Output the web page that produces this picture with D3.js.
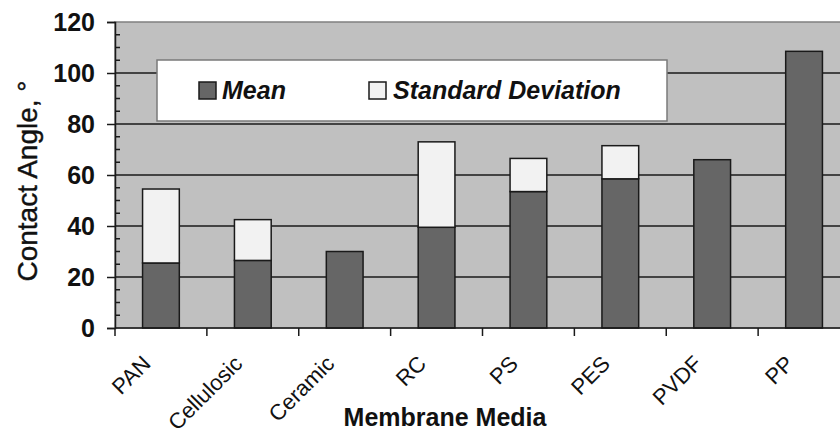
<!DOCTYPE html>
<html>
<head>
<meta charset="utf-8">
<script src="https://cdn.jsdelivr.net/npm/d3@7/dist/d3.min.js"></script>
<style>
  html, body { margin: 0; padding: 0; background: #ffffff; }
  svg { display: block; font-family: "Liberation Sans", Arial, sans-serif; }
</style>
</head>
<body>
<svg id="chart" width="840" height="434"></svg>
<script>
// Contact angle of membrane media: mean with standard deviation stacked on top
const categories = ["PAN", "Cellulosic", "Ceramic", "RC", "PS", "PES", "PVDF", "PP"];
const meanValues = [25.5, 26.5, 30, 39.5, 53.5, 58.5, 66, 108.5];
const sdValues   = [29, 16, 0, 33.5, 13, 13, 0, 0];
const yTicks = [0, 20, 40, 60, 80, 100, 120];
const seriesNames = ["Mean", "Standard Deviation"];

const svg = d3.select("#chart");
const plot = { left: 115, right: 850, top: 22, bottom: 328 };

const x = d3.scaleBand()
  .domain(categories)
  .range([plot.left, plot.right])
  .paddingInner(0.6)
  .paddingOuter(0.3);

const y = d3.scaleLinear()
  .domain([0, 120])
  .range([plot.bottom, plot.top]);

// plot background
svg.append("rect")
  .attr("x", plot.left).attr("y", plot.top)
  .attr("width", plot.right - plot.left).attr("height", plot.bottom - plot.top)
  .attr("fill", "#c0c0c0")
  .attr("stroke", "#808080").attr("stroke-width", 1.5);

// horizontal gridlines
svg.append("g")
  .selectAll("line")
  .data(yTicks.filter(d => d > 0 && d < 120))
  .join("line")
  .attr("x1", plot.left).attr("x2", plot.right)
  .attr("y1", d => y(d)).attr("y2", d => y(d))
  .attr("stroke", "#1a1a1a").attr("stroke-width", 1.5);

// minor ticks every 5 units, pointing into the plot
svg.append("g")
  .selectAll("line")
  .data(d3.range(5, 120, 5).filter(d => d % 20 !== 0))
  .join("line")
  .attr("x1", plot.left).attr("x2", plot.left + 5)
  .attr("y1", d => y(d)).attr("y2", d => y(d))
  .attr("stroke", "#1a1a1a").attr("stroke-width", 1.5);

// stacked bars
const stackData = categories.map((c, i) => ({ cat: c, Mean: meanValues[i], "Standard Deviation": sdValues[i] }));
const stacked = d3.stack().keys(seriesNames)(stackData);
const fills = { "Mean": "#666666", "Standard Deviation": "#f2f2f2" };

svg.append("g")
  .selectAll("g")
  .data(stacked)
  .join("g")
  .attr("fill", d => fills[d.key])
  .selectAll("rect")
  .data(d => d.filter(s => s[1] - s[0] > 0))
  .join("rect")
  .attr("x", d => x(d.data.cat))
  .attr("y", d => y(d[1]))
  .attr("width", x.bandwidth())
  .attr("height", d => y(d[0]) - y(d[1]))
  .attr("stroke", "#1a1a1a").attr("stroke-width", 1.5);

// y axis
const yAxis = d3.axisLeft(y).tickValues(yTicks).tickSize(8).tickPadding(12);
const gy = svg.append("g")
  .attr("transform", `translate(${plot.left},0)`)
  .call(yAxis);
gy.select(".domain").attr("stroke", "#1a1a1a").attr("stroke-width", 1.5);
gy.selectAll(".tick line").attr("stroke", "#1a1a1a").attr("stroke-width", 1.5);
gy.selectAll(".tick text")
  .attr("font-size", 25).attr("font-weight", "bold")
  .attr("font-family", "Liberation Sans, Arial, sans-serif")
  .attr("fill", "#111");

// x axis: ticks at category boundaries, labels at band centers
svg.append("line")
  .attr("x1", plot.left).attr("x2", plot.right)
  .attr("y1", plot.bottom).attr("y2", plot.bottom)
  .attr("stroke", "#1a1a1a").attr("stroke-width", 1.5);

svg.append("g")
  .selectAll("line")
  .data(d3.range(categories.length))
  .join("line")
  .attr("x1", i => x.range()[0] + i * x.step())
  .attr("x2", i => x.range()[0] + i * x.step())
  .attr("y1", plot.bottom).attr("y2", plot.bottom + 8)
  .attr("stroke", "#1a1a1a").attr("stroke-width", 1.5);

svg.append("g")
  .selectAll("text")
  .data(categories)
  .join("text")
  .attr("transform", d => `translate(${x(d) + x.bandwidth() / 2 - 9},${plot.bottom + 37}) rotate(-45)`)
  .attr("text-anchor", "end")
  .attr("font-size", 22)
  .attr("fill", "#111")
  .text(d => d);

// axis titles
svg.append("text")
  .attr("x", 445).attr("y", 426)
  .attr("text-anchor", "middle")
  .attr("font-size", 25).attr("font-weight", "bold")
  .attr("fill", "#111")
  .text("Membrane Media");

svg.append("text")
  .attr("transform", "translate(37,181) rotate(-90)")
  .attr("text-anchor", "middle")
  .attr("font-size", 28)
  .attr("fill", "#111")
  .attr("stroke", "#111").attr("stroke-width", 0.4)
  .text("Contact Angle, °");

// legend
const legend = svg.append("g");
legend.append("rect")
  .attr("x", 157).attr("y", 60)
  .attr("width", 510).attr("height", 61)
  .attr("fill", "#ffffff")
  .attr("stroke", "#7a7a7a").attr("stroke-width", 1.5);

const legendItems = [
  { name: seriesNames[0], sx: 199, tx: 222 },
  { name: seriesNames[1], sx: 369, tx: 393 }
];
const items = legend.selectAll("g.item")
  .data(legendItems)
  .join("g").attr("class", "item");
items.append("rect")
  .attr("x", d => d.sx).attr("y", 82)
  .attr("width", 17).attr("height", 17)
  .attr("fill", d => fills[d.name])
  .attr("stroke", "#1a1a1a").attr("stroke-width", 1.5);
items.append("text")
  .attr("x", d => d.tx).attr("y", 99)
  .attr("font-size", 25).attr("font-weight", "bold").attr("font-style", "italic")
  .attr("fill", "#111")
  .text(d => d.name);
</script>
</body>
</html>
